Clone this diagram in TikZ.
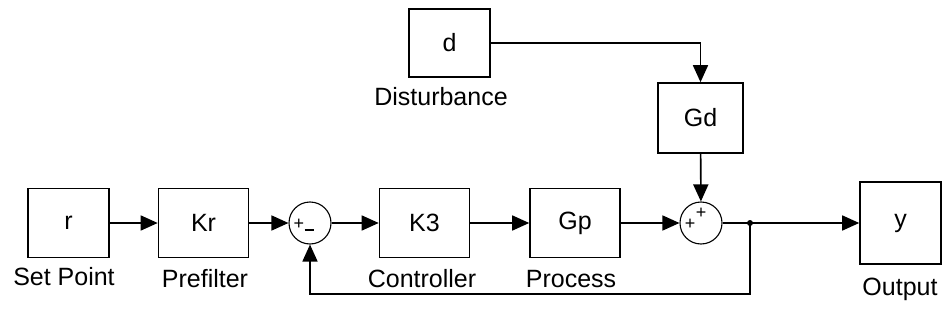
\documentclass[tikz,border=0pt]{standalone}
\usepackage{fontspec}
\setmainfont{Liberation Sans}
\usetikzlibrary{arrows.meta}
\begin{document}
\begin{tikzpicture}[x=1pt,y=-1pt,
  blk/.style={draw,line width=1.6pt,minimum width=90pt,minimum height=69pt,inner sep=0pt,font=\fontsize{25}{25}\selectfont},
  lbl/.style={font=\fontsize{25}{25}\selectfont,inner sep=0pt},
  sumnode/.style={draw,circle,line width=1.1pt,minimum size=42pt,inner sep=0pt},
  sgn/.style={font=\fontsize{18}{18}\selectfont,inner sep=0pt},
  wire/.style={line width=1.6pt,-{Triangle[length=17pt,width=15pt]}},
  line/.style={line width=1.6pt}]
\useasboundingbox (0,0) rectangle (943,324);
\node[blk,minimum width=81pt] (r) at (68.5,223) {r};
\node[blk] (kr) at (203.5,223) {Kr};
\node[sumnode] (s1) at (310,223) {};
\node[blk] (k3) at (424.5,223) {K3};
\node[blk] (gp) at (575,223) {Gp};
\node[sumnode] (s2) at (701,223) {};
\node[blk,minimum width=81pt,minimum height=82pt] (y) at (900.5,223) {y};
\node[blk,minimum width=81pt,minimum height=68pt] (d) at (449.5,43) {d};
\node[blk,minimum width=85pt,minimum height=70pt] (gd) at (700.5,118) {Gd};
\coordinate (j) at (750,223);
\coordinate (fb1) at (750,294);
\coordinate (fb2) at (310,294);
\coordinate (dc) at (700.5,43);
\fill (j) circle (3pt);
% signs
\node[sgn] (p1) at (299,224) {+};
\node[sgn] (m1) at (309,232) {\rule[4pt]{9pt}{1.3pt}};
\node[sgn] (p2) at (690,224) {+};
\node[sgn] (p3) at (701,213) {+};
% labels
\node[lbl] (l1) at (64,277) {Set Point};
\node[lbl] (l2) at (205,279) {Prefilter};
\node[lbl] (l3) at (422,279) {Controller};
\node[lbl] (l4) at (571,279) {Process};
\node[lbl] (l5) at (900,289) {Output};
\node[lbl] (l6) at (441,97) {Disturbance};
% wires
\draw[wire] (r) -- (kr);
\draw[wire] (kr) -- (s1);
\draw[wire] (s1) -- (k3);
\draw[wire] (k3) -- (gp);
\draw[wire] (gp) -- (s2);
\draw[line] (s2) -- (j);
\draw[wire] (j) -- (y);
\draw[wire] (d.east) -- (dc) -- (gd.north);
\draw[wire] (gd) -- (s2);
\draw[wire] (j) -- (fb1) -- (fb2) -- (s1);
\end{tikzpicture}
\end{document}
